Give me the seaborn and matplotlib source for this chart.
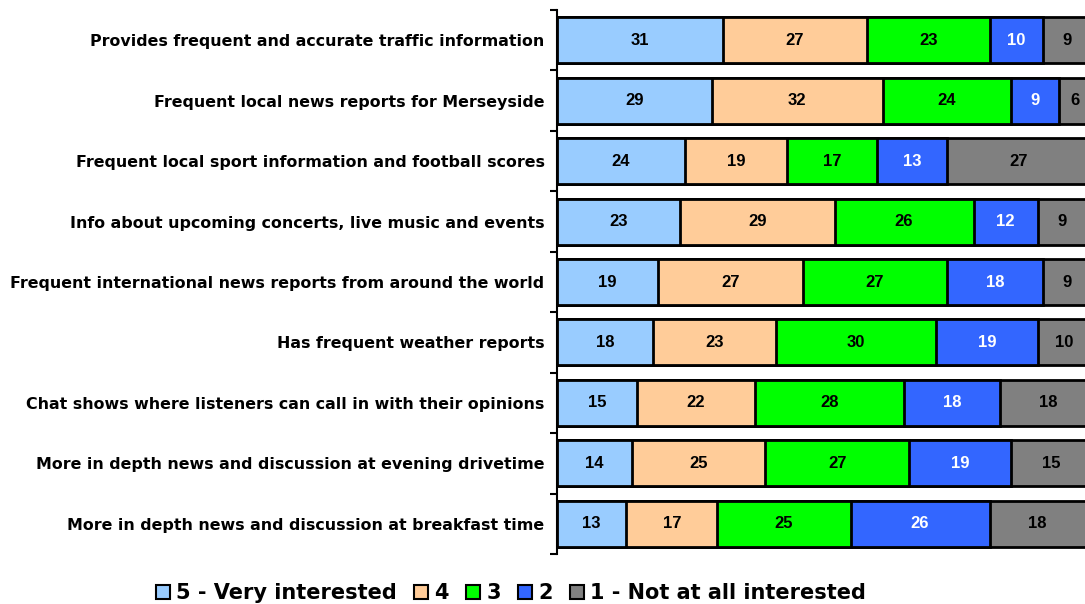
import numpy as np
import pandas as pd
import matplotlib
matplotlib.use("Agg")
import matplotlib.pyplot as plt
import seaborn as sns
from matplotlib.patches import Patch

categories = [
    "Provides frequent and accurate traffic information",
    "Frequent local news reports for Merseyside",
    "Frequent local sport information and football scores",
    "Info about upcoming concerts, live music and events",
    "Frequent international news reports from around the world",
    "Has frequent weather reports",
    "Chat shows where listeners can call in with their opinions",
    "More in depth news and discussion at evening drivetime",
    "More in depth news and discussion at breakfast time",
]
series_names = ["5 - Very interested", "4", "3", "2", "1 - Not at all interested"]
very_interested = [31, 29, 24, 23, 19, 18, 15, 14, 13]
score4 = [27, 32, 19, 29, 27, 23, 22, 25, 17]
score3 = [23, 24, 17, 26, 27, 30, 28, 27, 25]
score2 = [10, 9, 13, 12, 18, 19, 18, 19, 26]
not_at_all = [9, 6, 27, 9, 9, 10, 18, 15, 18]
colors = ["#99CCFF", "#FFCC99", "#00FF00", "#3366FF", "#808080"]
text_colors = ["black", "black", "black", "white", "black"]

series = [very_interested, score4, score3, score2, not_at_all]
vals = np.array(series, dtype=float)
cum = np.cumsum(vals, axis=0)

sns.set_theme(style="white")
plt.rcParams["font.family"] = ["DejaVu Sans"]
plt.rcParams["text.color"] = "black"
plt.rcParams["axes.labelcolor"] = "black"
plt.rcParams["ytick.color"] = "black"
plt.rcParams["xtick.color"] = "black"

fig = plt.figure(figsize=(10.85, 6.04), dpi=100)
ax = fig.add_axes([557 / 1085, 1 - 554 / 604, 534 / 1085, 544 / 604])

df = pd.DataFrame({"category": categories})
for k in range(4, -1, -1):
    df["v"] = cum[k]
    sns.barplot(data=df, x="v", y="category", orient="h", color=colors[k],
                saturation=1, width=0.76, edgecolor="black", linewidth=2,
                ax=ax, order=categories)

for k in range(5):
    for i in range(len(categories)):
        left = cum[k][i] - vals[k][i]
        ax.text(left + vals[k][i] / 2, i, f"{int(vals[k][i])}", ha="center", va="center",
                fontsize=12, fontweight="bold", color=text_colors[k],
                family=["Liberation Sans", "DejaVu Sans"])

ax.set_xlim(0, 100)
ax.set_ylim(8.5, -0.5)
ax.set_xlabel("")
ax.set_ylabel("")
ax.set_xticks([])
ax.set_yticks(range(len(categories)))
ax.set_yticklabels(categories, fontsize=11.4, fontweight="bold", color="black")
ax.set_yticks(np.arange(-0.5, 9.0, 1.0), minor=True)
ax.tick_params(axis="y", which="major", length=0, pad=9)
ax.tick_params(axis="y", which="minor", length=5, width=1.5, direction="out", left=True, color="black")
for s in ["top", "right", "bottom"]:
    ax.spines[s].set_visible(False)
ax.spines["left"].set_color("black")
ax.spines["left"].set_linewidth(1.5)

handles = [Patch(facecolor=c, edgecolor="black", linewidth=1.5) for c in colors]
leg = fig.legend(handles, series_names, loc="center", bbox_to_anchor=(511 / 1085, 1 - 593 / 604),
                 ncol=5, frameon=False, handlelength=0.65, handleheight=0.65, handletextpad=0.3,
                 columnspacing=0.85, prop={"weight": "bold", "size": 15})
for t in leg.get_texts():
    t.set_color("black")

fig.savefig("out.png", dpi=100)
